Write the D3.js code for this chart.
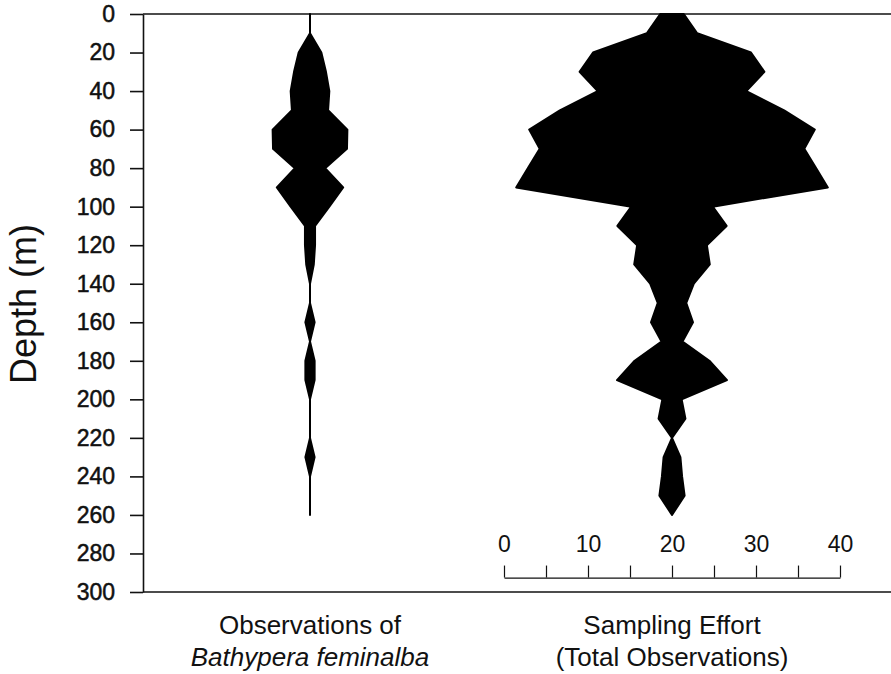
<!DOCTYPE html>
<html>
<head>
<meta charset="utf-8">
<script src="https://cdn.jsdelivr.net/npm/d3@7"></script>
<style>
  body { margin: 0; background: #fff; }
  svg { display: block; font-family: "Liberation Sans", Arial, Helvetica, sans-serif; }
</style>
</head>
<body>
<div id="chart"></div>
<script>
// depth (m) of each kite vertex
const depths = [0, 10, 20, 30, 40, 50, 60, 70, 80, 90, 100, 110, 120, 130, 140,
  150, 160, 170, 180, 190, 200, 210, 220, 230, 240, 250, 260];

// kite widths, in observations
const observations = [0, 0, 2.7, 3.8, 4.6, 4.3, 8.9, 8.8, 3.6, 7.9, 4.6, 1.2, 1.2, 0.9, 0,
  0, 1.1, 0, 1.1, 1.1, 0, 0, 0, 1.1, 0, 0, 0];
const effort = [2.8, 6.0, 18.8, 22.0, 17.7, 26.7, 34.0, 31.5, 34.3, 37.1, 9.7, 13.0, 8.3, 9.0, 5.2,
  3.4, 5.0, 2.5, 8.9, 13.1, 2.3, 3.2, 0, 2.0, 2.4, 3.0, 0];

const columns = ["observations", "effort"];
const columnLabels = [
  ["Observations of", "Bathypera feminalba"],
  ["Sampling Effort", "(Total Observations)"],
];
const depthTicks = d3.range(0, 301, 20);
const scaleTicks = d3.range(0, 41, 5);

const width = 891;
const height = 674;
const margin = { top: 14, left: 143, bottom: 82 };

const svg = d3.select("#chart")
  .append("svg")
  .attr("width", width)
  .attr("height", height);

const y = d3.scaleLinear()
  .domain([0, 300])
  .range([margin.top, height - margin.bottom]);

// column centres
const col = d3.scalePoint()
  .domain(columns)
  .range([310, 672]);

// observations -> kite width in px
const w = d3.scaleLinear().domain([0, 40]).range([0, 336]);

// frame: top and bottom lines run off the right edge
svg.append("g")
  .attr("stroke", "#111")
  .attr("stroke-width", 1.6)
  .selectAll("line")
  .data([0, 300])
  .join("line")
  .attr("x1", margin.left)
  .attr("x2", width + 5)
  .attr("y1", (d) => y(d))
  .attr("y2", (d) => y(d));

const yAxis = svg.append("g")
  .attr("transform", `translate(${margin.left},0)`)
  .call(d3.axisLeft(y).tickValues(depthTicks).tickSize(13).tickSizeOuter(0).tickPadding(15));
yAxis.selectAll("path, line").attr("stroke", "#111").attr("stroke-width", 1.6);
yAxis.selectAll("text")
  .attr("font-size", 23)
  .attr("font-family", "Liberation Sans, Arial, sans-serif")
  .attr("fill", "#111")
  .attr("stroke", "#111")
  .attr("stroke-width", 0.5);

svg.append("text")
  .attr("transform", `translate(36,${y(150) + 1}) rotate(-90)`)
  .attr("text-anchor", "middle")
  .attr("font-size", 36)
  .attr("fill", "#111")
  .text("Depth (m)");

// kite diagrams
const series = { observations, effort };
columns.forEach((key) => {
  const cx = col(key);
  const rows = depths.map((d, i) => ({ depth: d, value: series[key][i] }));
  const area = d3.area()
    .x0((d) => cx - w(d.value) / 2)
    .x1((d) => cx + w(d.value) / 2)
    .y((d) => y(d.depth));
  svg.append("path")
    .datum(rows)
    .attr("d", area)
    .attr("fill", "#000")
    .attr("stroke", "#000")
    .attr("stroke-width", 2)
    .attr("stroke-linejoin", "round");
});

// width scale bar centred on the effort kite
const cxEffort = col("effort");
const xBar = d3.scaleLinear()
  .domain([0, 40])
  .range([cxEffort - w(20), cxEffort + w(20)]);

const bar = svg.append("g")
  .attr("transform", `translate(0,${y(292.5)})`)
  .call(d3.axisTop(xBar)
    .tickValues(scaleTicks)
    .tickSize(12)
    .tickSizeOuter(0)
    .tickPadding(14)
    .tickFormat((d) => (d % 10 === 0 ? d : "")));
bar.selectAll("path, line").attr("stroke", "#111").attr("stroke-width", 1.2);
bar.selectAll("text")
  .attr("font-size", 23)
  .attr("font-family", "Liberation Sans, Arial, sans-serif")
  .attr("fill", "#111");

// column labels
const labels = svg.append("g")
  .attr("font-size", 26)
  .attr("fill", "#111")
  .attr("text-anchor", "middle");
columns.forEach((key, i) => {
  columnLabels[i].forEach((line, j) => {
    labels.append("text")
      .attr("x", col(key))
      .attr("y", 634 + j * 32)
      .attr("font-style", i === 0 && j === 1 ? "italic" : "normal")
      .text(line);
  });
});
</script>
</body>
</html>
